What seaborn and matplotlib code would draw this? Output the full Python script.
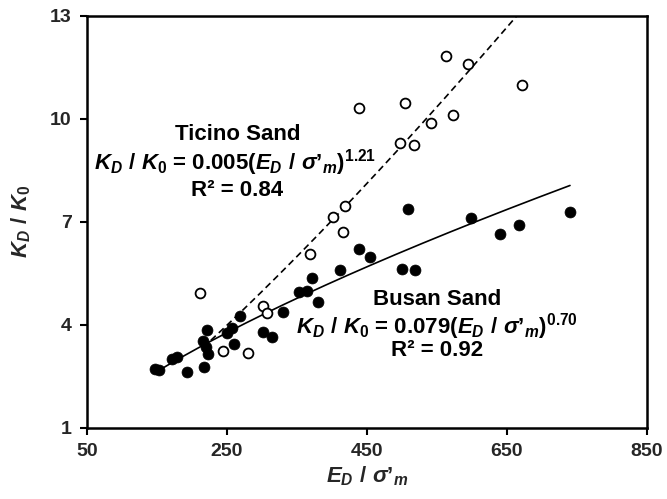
import numpy as np
import pandas as pd
import matplotlib
matplotlib.use("Agg")
import matplotlib.pyplot as plt
import seaborn as sns

# =========================
# DATA
# =========================
busan_x = [147, 153, 171, 178, 193, 217, 216, 220, 223, 222, 250, 257, 260, 268,
           301, 314, 330, 353, 364, 372, 380, 411, 439, 455, 500, 519, 509, 599,
           640, 667, 740]
busan_y = [2.70, 2.68, 2.99, 3.07, 2.62, 2.78, 3.52, 3.35, 3.15, 3.85, 3.77, 3.90,
           3.44, 4.25, 3.80, 3.63, 4.38, 4.96, 4.99, 5.35, 4.65, 5.59, 6.20, 5.98,
           5.61, 5.59, 7.38, 7.10, 6.64, 6.91, 7.27]

ticino_x = [211, 245, 280, 302, 307, 369, 401, 416, 419, 439, 497, 517, 504, 542,
            573, 563, 595, 671]
ticino_y = [4.93, 3.24, 3.17, 4.55, 4.33, 6.06, 7.15, 6.69, 7.47, 10.31, 9.28, 9.23,
            10.47, 9.87, 10.12, 11.83, 11.59, 10.99]

# power-law fits  K_D/K_0 = a * (E_D/sigma'_m)^b
busan_fit = (0.079, 0.70)
ticino_fit = (0.005, 1.21)
busan_span = (150, 740)
ticino_span = (227, 663)

x_ticks = [50, 250, 450, 650, 850]
y_ticks = [1, 4, 7, 10, 13]

# =========================
# STYLE
# =========================
sns.set_theme(style="ticks")
plt.rcParams["font.family"] = ["Liberation Sans", "DejaVu Sans"]
plt.rcParams["font.weight"] = "bold"
plt.rcParams["mathtext.fontset"] = "custom"
plt.rcParams["mathtext.rm"] = "Liberation Sans:bold"
plt.rcParams["mathtext.it"] = "Liberation Sans:bold:italic"
plt.rcParams["mathtext.bf"] = "Liberation Sans:bold"

fig = plt.figure(figsize=(6.67, 4.99), dpi=100)
ax = fig.add_axes([0.1304, 0.1429, 0.8396, 0.8256])

# fit curves
def fit_frame(fit, span):
    xs = np.linspace(span[0], span[1], 200)
    return pd.DataFrame({"x": xs, "y": fit[0] * xs ** fit[1]})

sns.lineplot(data=fit_frame(ticino_fit, ticino_span), x="x", y="y", ax=ax,
             color="black", linewidth=1.2, linestyle=(0, (4, 2.5)), zorder=1)
sns.lineplot(data=fit_frame(busan_fit, busan_span), x="x", y="y", ax=ax,
             color="black", linewidth=1.2, zorder=1)

# points
busan_df = pd.DataFrame({"x": busan_x, "y": busan_y})
ticino_df = pd.DataFrame({"x": ticino_x, "y": ticino_y})
sns.scatterplot(data=busan_df, x="x", y="y", ax=ax, color="black",
                edgecolor="black", s=62, linewidth=0.5, zorder=3)
sns.scatterplot(data=ticino_df, x="x", y="y", ax=ax, facecolor="white",
                edgecolor="black", s=50, linewidth=1.3, zorder=3)

# annotations
sig = r"\sigma’_m"
txt = dict(ha="center", va="center", fontsize=16, fontweight="bold", color="black")
ax.text(265, 9.55, "Ticino Sand", **txt)
ax.text(261, 8.71, r"$K_D\ /\ K_0$ = 0.005($E_D\ /\ " + sig + r"$$)^{1.21}$", **txt)
ax.text(265, 7.92, "R² = 0.84", **txt)
ax.text(550, 4.74, "Busan Sand", **txt)
ax.text(550, 3.96, r"$K_D\ /\ K_0$ = 0.079($E_D\ /\ " + sig + r"$$)^{0.70}$", **txt)
ax.text(550, 3.24, "R² = 0.92", **txt)

ax.set_xlim(50, 850)
ax.set_ylim(1, 13)
ax.set_xticks(x_ticks)
ax.set_yticks(y_ticks)
ax.set_xlabel(r"$E_D\ /\ " + sig + "$", fontsize=16, labelpad=3)
ax.set_ylabel(r"$K_D\ /\ K_0$", fontsize=16, labelpad=12)
ax.tick_params(axis="both", labelsize=14, width=1.5, length=5, color="black",
               direction="out", pad=6)
for lab in ax.get_xticklabels() + ax.get_yticklabels():
    lab.set_fontweight("bold")
for sp in ax.spines.values():
    sp.set_visible(True)
    sp.set_linewidth(1.8)
    sp.set_color("black")

fig.savefig("out.png", dpi=100, facecolor="white")
